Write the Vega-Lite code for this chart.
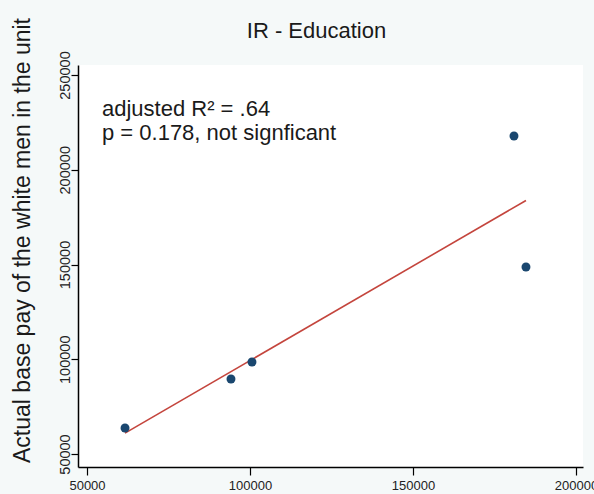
{
  "$schema": "https://vega.github.io/schema/vega-lite/v6.json",
  "width": 505,
  "height": 402,
  "autosize": {"type": "none"},
  "padding": {"left": 78, "top": 65, "right": 11, "bottom": 27},
  "background": "#f5f9f9",
  "view": {"fill": "#ffffff", "stroke": null},
  "config": {"font": "Liberation Sans"},
  "title": {
    "text": "IR - Education",
    "fontSize": 22,
    "fontWeight": "normal",
    "color": "#1a1a1a",
    "anchor": "middle",
    "frame": "group",
    "dx": -14,
    "offset": 0,
    "dy": 42,
    "baseline": "alphabetic"
  },
  "datasets": {
    "pay": [
      {"predicted": 61660, "actual": 63720},
      {"predicted": 94170, "actual": 89580},
      {"predicted": 100610, "actual": 98550},
      {"predicted": 180980, "actual": 217810},
      {"predicted": 184660, "actual": 148680}
    ],
    "note": [
      {"label": "fit statistics"}
    ]
  },
  "layer": [
    {
      "data": {"name": "pay"},
      "transform": [{"regression": "actual", "on": "predicted"}],
      "mark": {"type": "line", "color": "#c4453d", "strokeWidth": 1.6},
      "encoding": {
        "x": {"field": "predicted", "type": "quantitative"},
        "y": {"field": "actual", "type": "quantitative"}
      }
    },
    {
      "data": {"name": "pay"},
      "mark": {"type": "point", "shape": "circle", "filled": true, "size": 80, "color": "#1a476f", "opacity": 1},
      "encoding": {
        "x": {
          "field": "predicted",
          "type": "quantitative",
          "scale": {"domain": [47240, 202150], "nice": false, "zero": false},
          "axis": {
            "title": null,
            "values": [50000, 100000, 150000, 200000],
            "format": "d",
            "grid": false,
            "domainColor": "#000000",
            "domainWidth": 1.5,
            "tickColor": "#000000",
            "tickWidth": 1.2,
            "tickSize": 8,
            "labelFontSize": 13,
            "labelColor": "#222222",
            "labelPadding": 4,
            "labelFlush": false
          }
        },
        "y": {
          "field": "actual",
          "type": "quantitative",
          "scale": {"domain": [43140, 255280], "nice": false, "zero": false},
          "axis": {
            "title": "Actual base pay of the white men in the unit",
            "titleFontSize": 23,
            "titleFontWeight": "normal",
            "titleColor": "#1a1a1a",
            "titleAngle": -90,
            "titleAlign": "center",
            "titleBaseline": "alphabetic",
            "titleX": -49,
            "titleY": 175,
            "values": [50000, 100000, 150000, 200000, 250000],
            "format": "d",
            "grid": false,
            "domainColor": "#000000",
            "domainWidth": 1.5,
            "tickColor": "#000000",
            "tickWidth": 1.2,
            "tickSize": 7,
            "labelFontSize": 14.5,
            "labelColor": "#222222",
            "labelAngle": -90,
            "labelAlign": "center",
            "labelBaseline": "alphabetic",
            "labelPadding": 2,
            "labelFlush": false
          }
        }
      }
    },
    {
      "data": {"name": "note"},
      "mark": {
        "type": "text",
        "align": "left",
        "baseline": "alphabetic",
        "fontSize": 22,
        "fontWeight": "normal",
        "lineHeight": 24,
        "color": "#1a1a1a"
      },
      "encoding": {
        "x": {"datum": 54600, "type": "quantitative"},
        "y": {"datum": 228360, "type": "quantitative"},
        "text": {"value": ["adjusted R² = .64", "p = 0.178, not signficant"]}
      }
    }
  ]
}
